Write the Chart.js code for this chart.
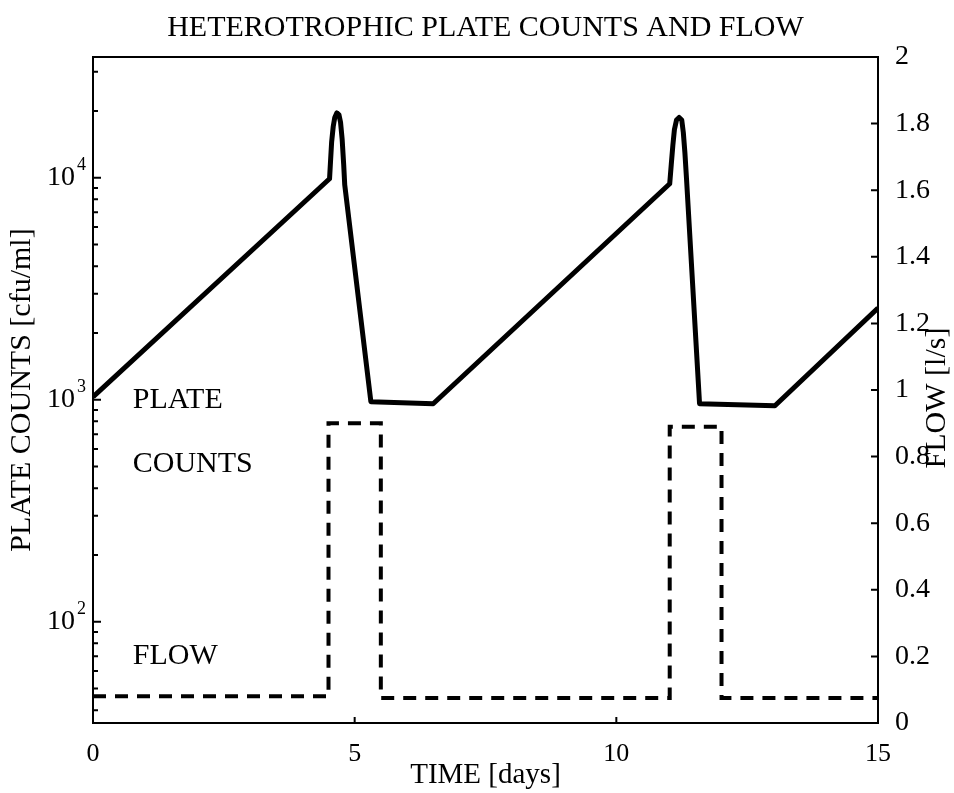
<!DOCTYPE html>
<html>
<head>
<meta charset="utf-8">
<script src="https://cdn.jsdelivr.net/npm/chart.js@4"></script>
<style>
  body { margin: 0; background: #fff; }
  canvas { display: block; }
</style>
</head>
<body>
<canvas id="hpcChart" width="954" height="793"></canvas>
<script>
"use strict";

// plate counts (solid line, left log axis)
const plateDays = [0, 4.52, 4.54, 4.56, 4.59, 4.62, 4.66, 4.7, 4.73, 4.76, 4.79, 4.81, 5.31, 6.5,
  11.02, 11.05, 11.08, 11.11, 11.15, 11.2, 11.25, 11.28, 11.31, 11.34, 11.59, 13.03, 15];
const plateCounts = [1030, 9900, 12000, 14500, 17000, 18700, 19600, 19200, 17800, 15000, 11500, 9300, 980, 960,
  9400, 11500, 14000, 16500, 18200, 18700, 18200, 16000, 13000, 10000, 960, 940, 2590];

// flow (dashed line, right axis)
const flowDays = [0, 4.5, 4.5, 5.5, 5.5, 11.02, 11.02, 12.01, 12.01, 15];
const flowValues = [0.08, 0.08, 0.9, 0.9, 0.075, 0.075, 0.89, 0.89, 0.075, 0.075];

// tick labels
const timeTicks = [0, 5, 10, 15];
const countTicks = [100, 1000, 10000];
const countExponents = ["2", "3", "4"];

const serif = '"Liberation Serif", "Times New Roman", serif';
Chart.defaults.font.family = serif;
Chart.defaults.color = "#000";

const plateData = plateDays.map((d, i) => ({ x: d, y: plateCounts[i] }));
const flowData = flowDays.map((d, i) => ({ x: d, y: flowValues[i] }));

// frame, inward ticks, superscript labels and in-plot notes
const framePlugin = {
  id: "frame",
  afterDraw(chart) {
    const ctx = chart.ctx;
    const area = chart.chartArea;
    const xs = chart.scales.x;
    const ys = chart.scales.y;
    const y1 = chart.scales.y1;
    ctx.save();
    ctx.strokeStyle = "#000";
    ctx.lineWidth = 2;
    ctx.strokeRect(area.left, area.top, area.right - area.left, area.bottom - area.top);

    ctx.beginPath();
    timeTicks.forEach((t) => {
      const px = xs.getPixelForValue(t);
      ctx.moveTo(px, area.bottom);
      ctx.lineTo(px, area.bottom - 6);
    });
    for (let v = 0.2; v < 2; v += 0.2) {
      const py = y1.getPixelForValue(v);
      ctx.moveTo(area.right, py);
      ctx.lineTo(area.right - 7, py);
    }
    for (let dec = 10; dec <= 10000; dec *= 10) {
      for (let m = 1; m <= 9; m++) {
        const v = dec * m;
        if (v < ys.min || v > ys.max) continue;
        const py = ys.getPixelForValue(v);
        ctx.moveTo(area.left, py);
        ctx.lineTo(area.left + (m === 1 ? 8 : 5), py);
      }
    }
    ctx.stroke();

    // 10^n labels
    ctx.textBaseline = "middle";
    countTicks.forEach((v, i) => {
      const py = ys.getPixelForValue(v);
      ctx.font = "28px " + serif;
      ctx.textAlign = "right";
      ctx.fillText("10", area.left - 18, py);
      ctx.font = "18px " + serif;
      ctx.textAlign = "left";
      ctx.fillText(countExponents[i], area.left - 16, py - 13);
    });

    // notes inside the plot
    ctx.font = "30px " + serif;
    ctx.textAlign = "left";
    const nx = xs.getPixelForValue(0.76);
    ctx.fillText("PLATE", nx, ys.getPixelForValue(1000));
    ctx.fillText("COUNTS", nx, ys.getPixelForValue(515));
    ctx.fillText("FLOW", nx, y1.getPixelForValue(0.2));

    // right axis title, reading bottom to top
    ctx.translate(937, (area.top + area.bottom) / 2 + 8);
    ctx.rotate(-Math.PI / 2);
    ctx.textAlign = "center";
    ctx.fillText("FLOW [l/s]", 0, 0);
    ctx.restore();
  },
};

new Chart(document.getElementById("hpcChart"), {
  type: "line",
  data: {
    datasets: [
      {
        label: "PLATE COUNTS",
        data: plateData,
        yAxisID: "y",
        borderColor: "#000",
        borderWidth: 5,
        borderJoinStyle: "round",
        pointRadius: 0,
        tension: 0,
      },
      {
        label: "FLOW",
        data: flowData,
        yAxisID: "y1",
        borderColor: "#000",
        borderWidth: 4,
        borderDash: [13, 9],
        pointRadius: 0,
        tension: 0,
      },
    ],
  },
  options: {
    responsive: false,
    animation: false,
    layout: { padding: 0 },
    plugins: {
      legend: { display: false },
      tooltip: { enabled: false },
      title: {
        display: true,
        fullSize: false,
        text: "HETEROTROPHIC PLATE COUNTS AND FLOW",
        font: { size: 30, weight: "normal" },
        color: "#000",
        padding: { top: 10, bottom: 11 },
      },
    },
    scales: {
      x: {
        type: "linear",
        min: 0,
        max: 15,
        afterBuildTicks: (s) => { s.ticks = timeTicks.map((v) => ({ value: v })); },
        ticks: { font: { size: 26 }, padding: 8, maxRotation: 0 },
        grid: { display: false },
        border: { display: false },
        title: { display: true, text: "TIME [days]", font: { size: 29 }, padding: 0 },
        afterFit: (s) => { s.height = 70; },
      },
      y: {
        type: "logarithmic",
        position: "left",
        min: 35,
        max: 35000,
        ticks: { display: false },
        grid: { display: false },
        border: { display: false },
        title: { display: true, text: "PLATE COUNTS [cfu/ml]", font: { size: 30 }, padding: 4 },
        afterFit: (s) => { s.width = 93; },
      },
      y1: {
        type: "linear",
        position: "right",
        min: 0,
        max: 2,
        ticks: {
          stepSize: 0.2,
          font: { size: 28 },
          padding: 9,
          callback: (v) => String(+v.toFixed(1)),
        },
        grid: { display: false },
        border: { display: false },
        afterFit: (s) => { s.width = 76; },
      },
    },
  },
  plugins: [framePlugin],
});
</script>
</body>
</html>
